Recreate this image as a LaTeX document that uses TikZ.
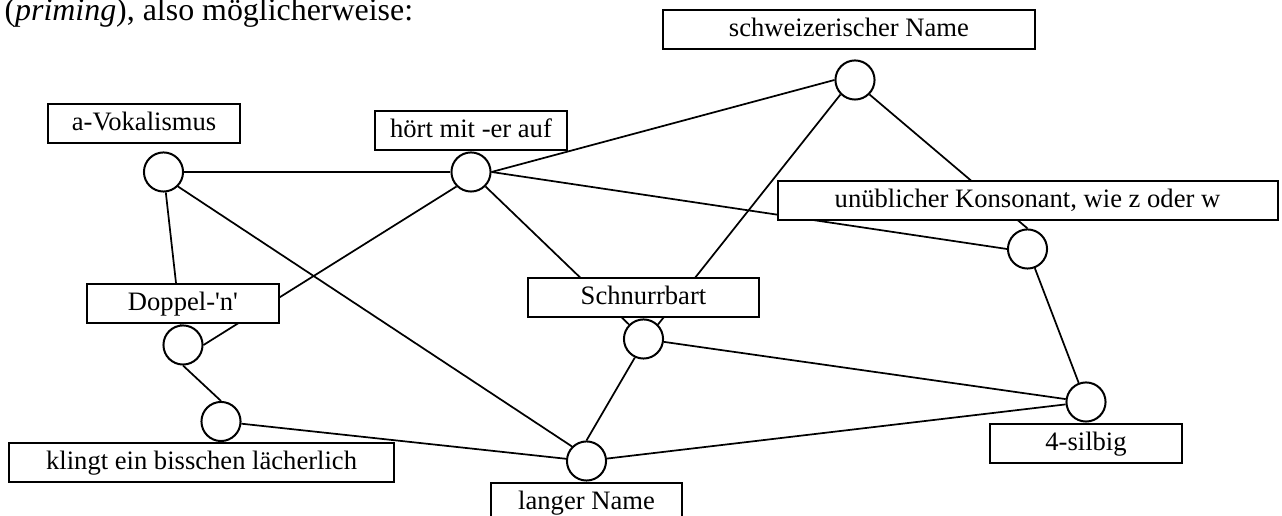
\documentclass[tikz,border=0pt]{standalone}
\usepackage{fontspec}
\setmainfont{Liberation Serif}
\usetikzlibrary{positioning, backgrounds}

\begin{document}
\begin{tikzpicture}[x=0.376pt, y=-0.376pt]
\tikzstyle{tag}=[draw, fill=white, line width=0.75pt, minimum width=72pt, minimum height=14.7pt,
inner xsep=2pt, inner ysep=0pt, text height=10pt, text depth=4.7pt, font=\fontsize{10}{12}\selectfont]
\tikzstyle{knot}=[draw, circle, fill=white, line width=0.75pt, minimum size=14.7pt, inner sep=0pt]
\tikzstyle{link}=[line width=0.65pt]

\useasboundingbox (0,0) rectangle (1282,516);

% intro line
\node (intro) [anchor=base west, inner sep=0pt, font=\fontsize{12}{14}\selectfont] at (4,21) {(\textit{priming}), also möglicherweise:};

% knots
\node (k_schw) [knot] at (855,80) {};
\node (k_avok) [knot] at (163.5,172) {};
\node (k_hoert) [knot] at (471,172) {};
\node (k_unueb) [knot] at (1027.5,249) {};
\node (k_dopp) [knot] at (183,345) {};
\node (k_schn) [knot] at (643.5,339) {};
\node (k_klingt) [knot] at (221,421.5) {};
\node (k_silb) [knot] at (1086,402) {};
\node (k_lang) [knot] at (586.5,461) {};

% labels
\node (schw) [tag, minimum width=140pt, above=3.5pt of k_schw, xshift=-2.3pt] {schweizerischer Name};
\node (avok) [tag, above=2.8pt of k_avok, xshift=-7.3pt] {a-Vokalismus};
\node (hoert) [tag, above=0pt of k_hoert] {hört mit -er auf};
\node (unueb) [tag, minimum width=188pt, above=2.8pt of k_unueb] {unüblicher Konsonant, wie z oder w};
\node (dopp) [tag, above=0pt of k_dopp] {Doppel-\textquotesingle n\textquotesingle};
\node (schn) [tag, minimum width=87pt, above=0pt of k_schn] {Schnurrbart};
\node (klingt) [tag, minimum width=145pt, below=0pt of k_klingt, xshift=-7.3pt] {klingt ein bisschen lächerlich};
\node (silb) [tag, below=0pt of k_silb] {4-silbig};
\node (lang) [tag, below=0pt of k_lang] {langer Name};

% links
\begin{scope}[on background layer]
\draw[link] (k_avok) -- (k_hoert);
\draw[link] (k_avok.south east) -- (k_lang.north west);
\draw[link] (k_avok) -- (k_dopp);
\draw[link] (k_hoert.south west) -- (k_dopp.east);
\draw[link] (k_hoert.east) -- (k_schw.west);
\draw[link] (k_hoert.east) -- (k_unueb.west);
\draw[link] (k_hoert.south east) -- (k_schn.north west);
\draw[link] (k_schw.south west) -- (k_schn.north east);
\draw[link] (k_schw.south east) -- (k_unueb.north);
\draw[link] (k_unueb) -- (k_silb);
\draw[link] (k_schn) -- (k_silb);
\draw[link] (k_schn.-115) -- (k_lang.north);
\draw[link] (k_lang) -- (k_silb);
\draw[link] (k_klingt) -- (k_lang);
\draw[link] (k_dopp.south) -- (k_klingt.north);
\end{scope}

\end{tikzpicture}
\end{document}
